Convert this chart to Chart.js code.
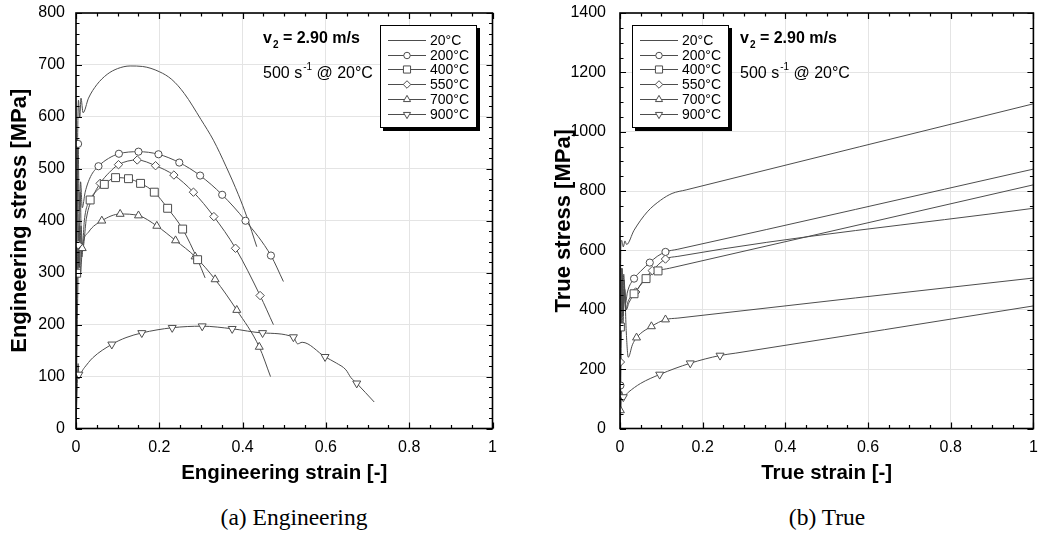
<!DOCTYPE html>
<html><head><meta charset="utf-8">
<script src="https://cdn.jsdelivr.net/npm/chart.js@4/dist/chart.umd.min.js"></script>
<style>
body{margin:0;background:#fff;width:1040px;height:544px;overflow:hidden;position:relative}
canvas{position:absolute;top:0}
#ca{left:0}
#cb{left:544px}
.cap{position:absolute;top:504px;line-height:26px;font-family:"Liberation Serif","Times New Roman",serif;font-size:23.5px;color:#000;white-space:nowrap;transform:translateX(-50%)}
</style></head><body>
<canvas id="ca" width="520" height="500"></canvas>
<canvas id="cb" width="496" height="500"></canvas>
<div class="cap" style="left:294px">(a) Engineering</div>
<div class="cap" style="left:827px">(b) True</div>
<script>
// ---------- categories / labels ----------
const seriesLabels = ['20°C','200°C','400°C','550°C','700°C','900°C'];
const xTickLabels = ['0','0.2','0.4','0.6','0.8','1'];
const yTickLabelsEng = ['0','100','200','300','400','500','600','700','800'];
const yTickLabelsTrue = ['0','200','400','600','800','1000','1200','1400'];

// ---------- engineering curves [strain, stress] ----------
const eng20 = [[0,0],[0.002,320],[0.004,560],[0.006,632],[0.009,598],[0.012,636],[0.017,608],[0.03,636],[0.05,662],[0.075,682],[0.1,693],[0.13,698],[0.16,697],[0.2,687],[0.23,672],[0.26,645],[0.3,595],[0.33,555],[0.36,505],[0.39,450],[0.41,408],[0.434,350]];
const eng200 = [[0,0],[0.002,380],[0.005,548],[0.008,420],[0.011,475],[0.015,425],[0.022,455],[0.035,485],[0.054,505],[0.078,520],[0.103,529],[0.15,533],[0.198,528],[0.248,512],[0.298,487],[0.351,450],[0.407,400],[0.468,333],[0.498,283]];
const eng400 = [[0,0],[0.0016,299],[0.004,485],[0.007,310],[0.01,455],[0.014,330],[0.02,400],[0.034,440],[0.05,458],[0.068,470],[0.095,483],[0.126,481],[0.155,472],[0.188,455],[0.22,424],[0.256,384],[0.292,325],[0.31,290]];
const eng550 = [[0,0],[0.003,300],[0.005,354],[0.008,310],[0.012,390],[0.016,345],[0.025,405],[0.04,445],[0.058,472],[0.08,493],[0.102,508],[0.147,517],[0.191,506],[0.235,488],[0.282,455],[0.331,408],[0.383,347],[0.442,256],[0.474,200]];
const eng700 = [[0,0],[0.004,250],[0.008,390],[0.011,300],[0.015,347],[0.03,378],[0.062,400],[0.106,413],[0.15,410],[0.194,390],[0.239,362],[0.286,331],[0.334,287],[0.386,228],[0.44,157],[0.467,100]];
const eng900 = [[0,0],[0.003,80],[0.005,125],[0.007,104],[0.02,117],[0.04,136],[0.086,162],[0.12,175],[0.158,184],[0.231,194],[0.303,197],[0.375,192],[0.448,184],[0.522,176],[0.532,163],[0.543,166],[0.598,138],[0.625,126],[0.648,113],[0.66,98],[0.674,87],[0.716,51]];
// engineering markers
const engMk200 = [[0.005,548],[0.054,505],[0.103,529],[0.150,533],[0.198,528],[0.248,512],[0.298,487],[0.351,450],[0.407,400],[0.468,333]];
const engMk400 = [[0.0016,299],[0.034,440],[0.068,470],[0.095,483],[0.126,481],[0.155,472],[0.188,455],[0.22,424],[0.256,384],[0.292,325]];
const engMk550 = [[0.005,354],[0.058,472],[0.102,508],[0.147,517],[0.191,506],[0.235,488],[0.282,455],[0.331,408],[0.383,347],[0.442,256]];
const engMk700 = [[0.015,347],[0.062,400],[0.106,413],[0.15,410],[0.194,390],[0.239,362],[0.286,331],[0.334,287],[0.386,228],[0.44,157]];
const engMk900 = [[0.007,104],[0.086,162],[0.158,184],[0.231,194],[0.303,197],[0.375,192],[0.448,184],[0.522,176],[0.598,138],[0.674,87]];

// ---------- true curves ----------
const true20 = [[0,0],[0.001,400],[0.002,615],[0.004,634],[0.008,612],[0.012,632],[0.016,620],[0.034,668],[0.066,730],[0.098,769],[0.126,792],[0.16,804],[1.0,1094]];
const true200 = [[0,0],[0.001,145],[0.003,480],[0.006,400],[0.009,520],[0.013,420],[0.018,460],[0.034,505],[0.05,530],[0.072,559],[0.09,580],[0.11,595],[0.14,604],[1.0,874]];
const true400 = [[0,0],[0.001,342],[0.004,540],[0.007,380],[0.01,500],[0.014,400],[0.02,430],[0.034,454],[0.063,505],[0.092,531],[0.12,540],[1.0,821]];
const true550 = [[0,0],[0.001,224],[0.004,500],[0.007,350],[0.011,470],[0.015,400],[0.022,425],[0.038,460],[0.06,505],[0.078,532],[0.11,571],[0.14,580],[1.0,742]];
const true700 = [[0,0],[0.001,61],[0.003,300],[0.005,540],[0.008,400],[0.011,470],[0.015,330],[0.02,240],[0.03,282],[0.04,306],[0.076,344],[0.11,367],[0.14,372],[1.0,507]];
const true900 = [[0,0],[0.002,60],[0.004,125],[0.008,106],[0.02,122],[0.05,152],[0.096,182],[0.17,220],[0.242,246],[0.28,254],[1.0,413]];
// true markers
const trueMk200 = [[0.001,145],[0.034,505],[0.072,559],[0.11,595]];
const trueMk400 = [[0.001,342],[0.034,454],[0.063,505],[0.092,531]];
const trueMk550 = [[0.001,224],[0.038,460],[0.078,532],[0.11,571]];
const trueMk700 = [[0.001,61],[0.04,306],[0.076,344],[0.11,367]];
const trueMk900 = [[0.008,106],[0.096,182],[0.17,220],[0.242,246]];

// ---------- styling ----------
const FONT = '"Liberation Sans", Arial, Helvetica, sans-serif';
const LINE = '#4d4d4d';
const MARK = [null,
  {style:'circle', r:3.6, rot:0},
  {style:'rect', r:5.6, rot:0},
  {style:'rectRot', r:4.2, rot:0},
  {style:'triangle', r:4.6, rot:0},
  {style:'triangle', r:4.6, rot:180}];

const toXY = a => a.map(p => ({x:p[0], y:p[1]}));

function buildDatasets(curves, markers) {
  const ds = [];
  curves.forEach((c) => {
    ds.push({data: toXY(c), showLine: true, borderColor: LINE, borderWidth: 1, pointRadius: 0,
      cubicInterpolationMode: 'monotone', fill: false, order: 2});
  });
  markers.forEach((m, i) => {
    const s = MARK[i + 1];
    ds.push({data: toXY(m), showLine: false, pointStyle: s.style, pointRadius: s.r, pointRotation: s.rot,
      pointBackgroundColor: '#fff', pointBorderColor: LINE, pointBorderWidth: 1, order: 1});
  });
  return ds;
}

const framePlugin = {
  id: 'frameTicks',
  afterDatasetsDraw(chart) {
    const cfg = chart.options.plugins.frameTicks;
    const {ctx, chartArea: a, scales: {x, y}} = chart;
    ctx.save();
    ctx.strokeStyle = '#000';
    ctx.lineWidth = 1.2;
    ctx.beginPath();
    const nx = Math.round((cfg.xMax) / cfg.xMinor);
    for (let i = 0; i <= nx; i++) {
      const v = i * cfg.xMinor;
      const px = Math.round(x.getPixelForValue(v)) + 0.5;
      const major = (i % cfg.xMajorEvery) === 0;
      const L = major ? 6 : 3.5;
      ctx.moveTo(px, a.bottom); ctx.lineTo(px, a.bottom - L);
      ctx.moveTo(px, a.top); ctx.lineTo(px, a.top + L);
    }
    const ny = Math.round(cfg.yMax / cfg.yMinor);
    for (let i = 0; i <= ny; i++) {
      const v = i * cfg.yMinor;
      const py = Math.round(y.getPixelForValue(v)) + 0.5;
      const major = (i % cfg.yMajorEvery) === 0;
      const L = major ? 6 : 3.5;
      ctx.moveTo(a.left, py); ctx.lineTo(a.left + L, py);
      ctx.moveTo(a.right, py); ctx.lineTo(a.right - L, py);
    }
    ctx.stroke();
    ctx.lineWidth = 1.6;
    ctx.strokeRect(a.left, a.top, a.right - a.left, a.bottom - a.top);
    ctx.restore();
  },
  afterDraw(chart) {
    const cfg = chart.options.plugins.frameTicks;
    const ctx = chart.ctx;
    ctx.save();
    // legend box
    const bx = cfg.legendX, by = 25, bw = 97, bh = 103;
    ctx.fillStyle = '#000';
    ctx.fillRect(bx + 3, by + 3, bw, bh);
    ctx.fillStyle = '#fff';
    ctx.fillRect(bx, by, bw, bh);
    ctx.strokeStyle = '#000';
    ctx.lineWidth = 1;
    ctx.strokeRect(bx + 0.5, by + 0.5, bw - 1, bh - 1);
    ctx.font = '14px ' + FONT;
    ctx.textBaseline = 'middle';
    ctx.textAlign = 'left';
    seriesLabels.forEach((lab, i) => {
      const ry = Math.round(40 + i * 14.7) + 0.5;
      ctx.strokeStyle = LINE;
      ctx.lineWidth = 1;
      ctx.beginPath();
      ctx.moveTo(bx + 8, ry); ctx.lineTo(bx + 46, ry);
      ctx.stroke();
      const s = MARK[i];
      if (s) {
        ctx.fillStyle = '#fff';
        ctx.strokeStyle = LINE;
        Chart.helpers.drawPoint(ctx, {pointStyle: s.style, radius: s.r * 0.9, rotation: s.rot, borderWidth: 1}, bx + 27, ry);
      }
      ctx.fillStyle = '#000';
      ctx.fillText(lab, bx + 50, ry + 0.5);
    });
    // annotation
    const ax = cfg.annoX;
    ctx.textBaseline = 'alphabetic';
    ctx.fillStyle = '#000';
    ctx.font = 'bold 16px ' + FONT;
    ctx.fillText('v', ax, 43);
    let w = ctx.measureText('v').width;
    ctx.font = 'bold 10px ' + FONT;
    ctx.fillText('2', ax + w + 1, 48);
    let w2 = ctx.measureText('2').width;
    ctx.font = 'bold 16px ' + FONT;
    ctx.fillText(' = 2.90 m/s', ax + w + 1 + w2, 43);
    ctx.font = '16px ' + FONT;
    ctx.fillText('500 s', ax, 78);
    w = ctx.measureText('500 s').width;
    ctx.font = '10px ' + FONT;
    ctx.fillText('-1', ax + w + 1, 70);
    w2 = ctx.measureText('-1').width;
    ctx.font = '16px ' + FONT;
    ctx.fillText(' @ 20°C', ax + w + 1 + w2, 78);
    ctx.restore();
  }
};

function makeChart(id, curves, markers, o) {
  return new Chart(document.getElementById(id), {
    type: 'scatter',
    data: {datasets: buildDatasets(curves, markers)},
    plugins: [framePlugin],
    options: {
      responsive: false, animation: false, devicePixelRatio: 1,
      layout: {padding: {left: 0, top: 13, right: o.rightPad, bottom: 0}},
      plugins: {legend: {display: false}, tooltip: {enabled: false},
        frameTicks: {xMax: 1, xMinor: 0.05, xMajorEvery: 4, yMax: o.yMax, yMinor: o.yMinor, yMajorEvery: o.yMajorEvery,
          legendX: o.legendX, annoX: o.annoX}},
      scales: {
        x: {type: 'linear', min: 0, max: 1,
          ticks: {stepSize: 0.2, color: '#000', font: {size: 16, family: FONT}, padding: 9, maxRotation: 0,
            callback: (v, i) => xTickLabels[i]},
          grid: {color: '#e4e4e4', drawTicks: false},
          border: {display: false},
          title: {display: true, text: o.xTitle, color: '#000', font: {size: 20.5, weight: 'bold', family: FONT}, padding: {top: 0, bottom: 14}},
          afterFit(s) { s.height = 71.5; s.paddingLeft = 0; s.paddingRight = 0; }
        },
        y: {type: 'linear', min: 0, max: o.yMax,
          ticks: {stepSize: o.yStep, color: '#000', font: {size: 16, family: FONT}, padding: o.yPad,
            callback: (v, i) => o.yLabels[i]},
          grid: {color: '#e4e4e4', drawTicks: false},
          border: {display: false},
          title: {display: true, text: o.yTitle, color: '#000', font: {size: 22, weight: 'bold', family: FONT}, padding: {top: 7, bottom: 0}},
          afterFit(s) { s.width = 76; s.paddingTop = 0; s.paddingBottom = 0; }
        }
      }
    }
  });
}

makeChart('ca',
  [eng20, eng200, eng400, eng550, eng700, eng900],
  [engMk200, engMk400, engMk550, engMk700, engMk900],
  {rightPad: 27.5, yMax: 800, yStep: 100, yMinor: 20, yMajorEvery: 5, yLabels: yTickLabelsEng, yPad: 11,
   xTitle: 'Engineering strain [-]', yTitle: 'Engineering stress [MPa]', legendX: 380, annoX: 263});

makeChart('cb',
  [true20, true200, true400, true550, true700, true900],
  [trueMk200, trueMk400, trueMk550, trueMk700, trueMk900],
  {rightPad: 4, yMax: 1400, yStep: 200, yMinor: 50, yMajorEvery: 4, yLabels: yTickLabelsTrue, yPad: 14,
   xTitle: 'True strain [-]', yTitle: 'True stress [MPa]', legendX: 88, annoX: 196});
</script>
</body></html>
